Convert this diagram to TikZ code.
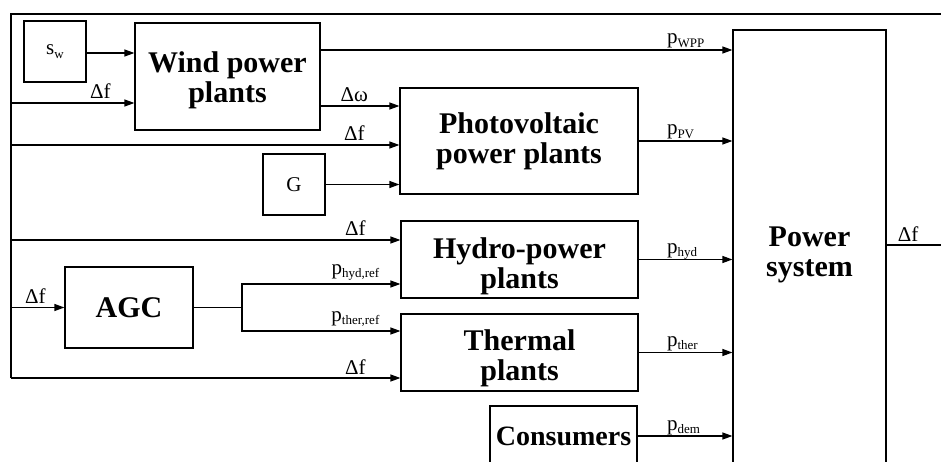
\documentclass[tikz,border=0pt]{standalone}
\usepackage{fontspec}
\setmainfont{Liberation Serif}
\usetikzlibrary{positioning, calc, arrows.meta}
\newcommand{\BigF}{\fontsize{30}{30}\selectfont\bfseries}
\newcommand{\LabF}{\fontsize{21}{22}\selectfont}
\newcommand{\SubF}{\fontsize{13}{14}\selectfont}
\newcommand{\psub}[1]{p\raisebox{-0.35ex}{\SubF #1}}
\newcommand{\DownT}[1][34pt]{\rule{0pt}{#1}}
\tikzset{
  block/.style={draw, line width=1.2pt, align=center, font=\BigF, inner sep=2pt},
  sig/.style={line width=1.2pt, -{Triangle[length=10pt,width=7pt]}},
  wire/.style={line width=1.2pt},
  lab/.style={anchor=base, yshift=4pt, font=\LabF, inner sep=0pt},
  labP/.style={lab, yshift=6pt},
  labR/.style={anchor=base west, yshift=6pt, xshift=-66pt, font=\LabF, inner sep=0pt},
}

\begin{document}
\begin{tikzpicture}[x=1pt,y=-1pt]
\useasboundingbox (0,0) rectangle (941,462);
\clip (0,0) rectangle (941,462);
% blocks
\node[block, minimum width=62, minimum height=61, font=\LabF] (sw) at (55,51.5) {s\raisebox{-0.35ex}{\SubF w}};
\node[block, minimum width=185, minimum height=107] (wind) at (227.5,76.5) {\DownT[28pt]Wind power\\plants};
\node[block, minimum width=238, minimum height=106] (pv) at (519,141) {Photovoltaic\\power plants};
\node[block, minimum width=62, minimum height=61, font=\LabF] (g) at (294,184.5) {G};
\node[block, minimum width=237, minimum height=77] (hydro) at (519.5,259.5) {\DownT Hydro-power\\plants};
\node[block, minimum width=128, minimum height=81] (agc) at (129,307.5) {AGC};
\node[block, minimum width=237, minimum height=77] (ther) at (519.5,352.5) {\DownT[32pt]Thermal\\plants};
\node[block, minimum width=147, minimum height=60, font=\fontsize{28}{30}\selectfont\bfseries] (cons) at (563.5,436) {Consumers};
\node[block, minimum width=153, minimum height=450] (psys) at (809.5,255) {Power\\system};

% frequency feedback bus
\coordinate (fbOut) at (960,245);
\coordinate (fbTop) at (960,14);
\coordinate (fbTL) at (11,14);
\coordinate (fbBL) at (11,378);
\draw[wire] (psys.east |- fbOut) -- (fbOut) -- (fbTop) -- (fbTL) -- (fbBL);
\node[lab] (dfOut) at (908,245) {Δf};
\coordinate (tWind) at (11,103);
\coordinate (tPv) at (11,145);
\coordinate (tHyd) at (11,240);
\coordinate (tAgc) at (11,307.5);
\coordinate (tTher) at (11,378);

% inputs
\draw[sig] (sw.east |- 0,53) -- (wind.west |- 0,53);
\draw[sig] (tWind) -- (tWind -| wind.west) node[lab, xshift=-34pt] {Δf};
\draw[sig] (wind.east |- 0,106) -- (pv.west |- 0,106) node[lab, xshift=-45pt] {Δω};
\draw[sig] (tPv) -- (tPv -| pv.west) node[lab, xshift=-45pt] {Δf};
\draw[sig] (g.east) -- (g.east -| pv.west);
\draw[sig] (tHyd) -- (tHyd -| hydro.west) node[lab, xshift=-45pt] {Δf};
\draw[sig] (tAgc) -- (agc.west) node[lab, xshift=-29pt] {Δf};
\coordinate (split) at (242,307.5);
\draw[wire] (agc.east) -- (split);
\draw[sig] (split) |- (hydro.west |- 0,284) node[labP, xshift=-45pt] {\psub{hyd,ref}};
\draw[sig] (split) |- (ther.west |- 0,331) node[labP, xshift=-45pt] {\psub{ther,ref}};
\draw[sig] (tTher) -- (tTher -| ther.west) node[lab, xshift=-45pt] {Δf};

% outputs to power system
\draw[sig] (wind.east |- 0,50) -- (psys.west |- 0,50) node[labR] {\psub{WPP}};
\draw[sig] (pv.east) -- (pv.east -| psys.west) node[labR] {\psub{PV}};
\draw[sig] (hydro.east) -- (hydro.east -| psys.west) node[labR] {\psub{hyd}};
\draw[sig] (ther.east) -- (ther.east -| psys.west) node[labR] {\psub{ther}};
\draw[sig] (cons.east) -- (cons.east -| psys.west) node[labR] {\psub{dem}};
\end{tikzpicture}
\end{document}
